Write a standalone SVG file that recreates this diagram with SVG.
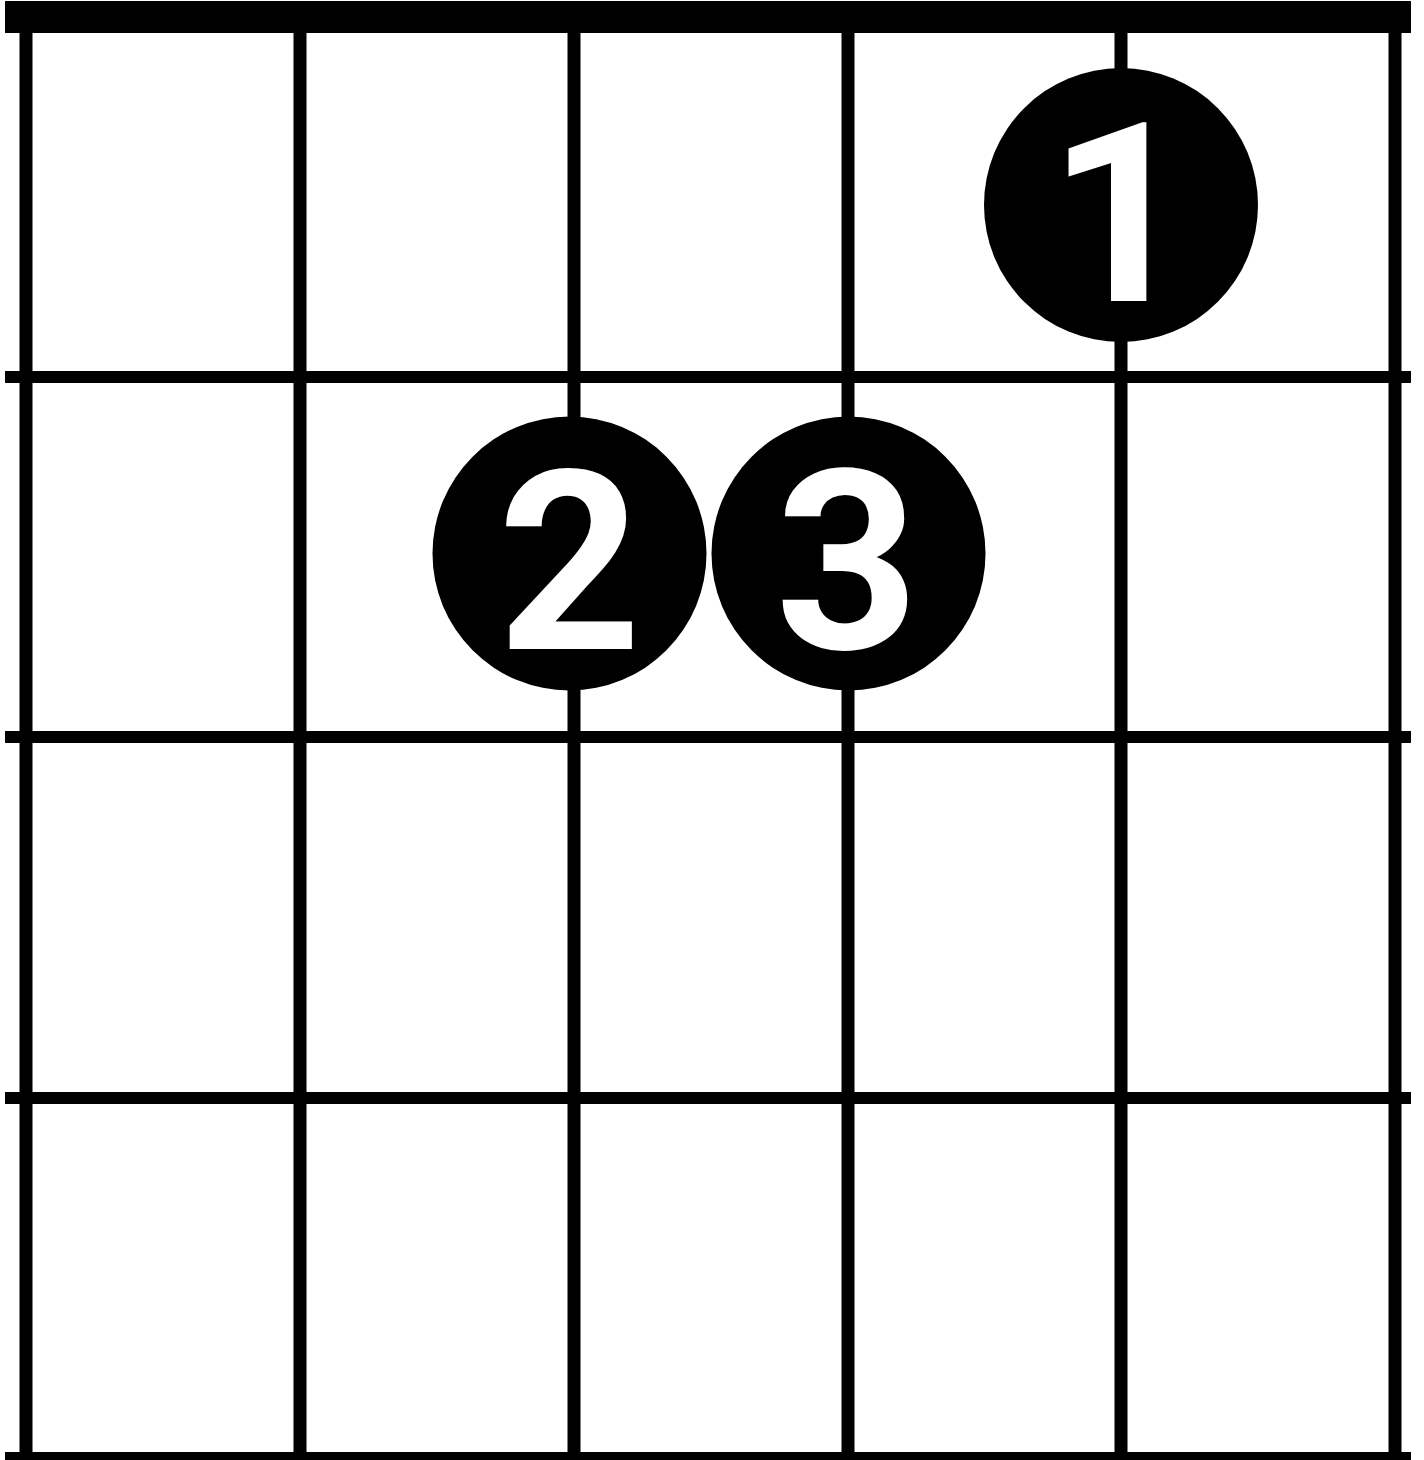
<svg xmlns="http://www.w3.org/2000/svg" width="1424" height="1460" viewBox="0 0 1424 1460">
<style>
.s{stroke:#000;stroke-width:13;fill:none}
.f{stroke:#000;stroke-width:12;fill:none}
.dot{fill:#000}
.lbl{fill:#fff;font-family:Roboto,"Liberation Sans",sans-serif;font-weight:700;font-size:251px;text-anchor:middle}
</style>
<rect width="1424" height="1460" fill="#fff"/>
<g id="grid">
<rect x="5" y="1" width="1406" height="32" fill="#000"/>
<line class="s" x1="26" y1="20" x2="26" y2="1460"/>
<line class="s" x1="300" y1="20" x2="300" y2="1460"/>
<line class="s" x1="574" y1="20" x2="574" y2="1460"/>
<line class="s" x1="848" y1="20" x2="848" y2="1460"/>
<line class="s" x1="1121" y1="20" x2="1121" y2="1460"/>
<line class="s" x1="1395" y1="20" x2="1395" y2="1460"/>
<line class="f" x1="5" y1="377" x2="1411" y2="377"/>
<line class="f" x1="5" y1="737" x2="1411" y2="737"/>
<line class="f" x1="5" y1="1098" x2="1411" y2="1098"/>
<line class="f" x1="5" y1="1458" x2="1411" y2="1458"/>
</g>
<g id="finger1">
<circle class="dot" cx="1121" cy="205" r="137"/>
<text class="lbl" x="1120" y="301">1</text>
</g>
<g id="finger2">
<circle class="dot" cx="569.5" cy="553.5" r="137"/>
<text class="lbl" x="569.5" y="649">2</text>
</g>
<g id="finger3">
<circle class="dot" cx="848.5" cy="553.5" r="137"/>
<text class="lbl" x="847" y="649">3</text>
</g>
</svg>
